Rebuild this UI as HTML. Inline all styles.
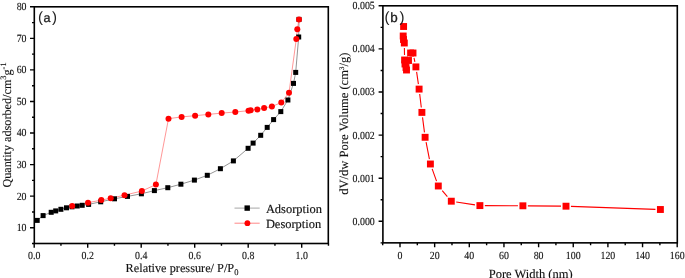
<!DOCTYPE html><html><head><meta charset="utf-8"><style>html,body{margin:0;padding:0;background:#fff;}svg{display:block;will-change:transform;} text{text-rendering:geometricPrecision;}</style></head><body>
<svg width="685" height="278" viewBox="0 0 685 278">
<rect width="685" height="278" fill="#fff"/>
<rect x="34.3" y="6.8" width="294.00" height="236.70" fill="none" stroke="#000" stroke-width="1.6"/>
<text transform="translate(26.5 231.12) scale(1 1.11)" text-anchor="end" font-family="Liberation Serif, serif" font-size="9.9" fill="#111" stroke="#111" stroke-width="0.12">10</text>
<text transform="translate(26.5 199.56) scale(1 1.11)" text-anchor="end" font-family="Liberation Serif, serif" font-size="9.9" fill="#111" stroke="#111" stroke-width="0.12">20</text>
<text transform="translate(26.5 168.00) scale(1 1.11)" text-anchor="end" font-family="Liberation Serif, serif" font-size="9.9" fill="#111" stroke="#111" stroke-width="0.12">30</text>
<text transform="translate(26.5 136.44) scale(1 1.11)" text-anchor="end" font-family="Liberation Serif, serif" font-size="9.9" fill="#111" stroke="#111" stroke-width="0.12">40</text>
<text transform="translate(26.5 104.88) scale(1 1.11)" text-anchor="end" font-family="Liberation Serif, serif" font-size="9.9" fill="#111" stroke="#111" stroke-width="0.12">50</text>
<text transform="translate(26.5 73.32) scale(1 1.11)" text-anchor="end" font-family="Liberation Serif, serif" font-size="9.9" fill="#111" stroke="#111" stroke-width="0.12">60</text>
<text transform="translate(26.5 41.76) scale(1 1.11)" text-anchor="end" font-family="Liberation Serif, serif" font-size="9.9" fill="#111" stroke="#111" stroke-width="0.12">70</text>
<text transform="translate(26.5 10.20) scale(1 1.11)" text-anchor="end" font-family="Liberation Serif, serif" font-size="9.9" fill="#111" stroke="#111" stroke-width="0.12">80</text>
<text transform="translate(34.20 258.9) scale(1 1.11)" text-anchor="middle" font-family="Liberation Serif, serif" font-size="9.9" fill="#111" stroke="#111" stroke-width="0.12">0.0</text>
<text transform="translate(87.70 258.9) scale(1 1.11)" text-anchor="middle" font-family="Liberation Serif, serif" font-size="9.9" fill="#111" stroke="#111" stroke-width="0.12">0.2</text>
<text transform="translate(141.20 258.9) scale(1 1.11)" text-anchor="middle" font-family="Liberation Serif, serif" font-size="9.9" fill="#111" stroke="#111" stroke-width="0.12">0.4</text>
<text transform="translate(194.70 258.9) scale(1 1.11)" text-anchor="middle" font-family="Liberation Serif, serif" font-size="9.9" fill="#111" stroke="#111" stroke-width="0.12">0.6</text>
<text transform="translate(248.20 258.9) scale(1 1.11)" text-anchor="middle" font-family="Liberation Serif, serif" font-size="9.9" fill="#111" stroke="#111" stroke-width="0.12">0.8</text>
<text transform="translate(301.70 258.9) scale(1 1.11)" text-anchor="middle" font-family="Liberation Serif, serif" font-size="9.9" fill="#111" stroke="#111" stroke-width="0.12">1.0</text>
<path d="M30.00 227.72H34.30 M30.00 196.16H34.30 M30.00 164.60H34.30 M30.00 133.04H34.30 M30.00 101.48H34.30 M30.00 69.92H34.30 M30.00 38.36H34.30 M30.00 6.80H34.30 M32.00 243.50H34.30 M328.45 243.50V245.80 M32.00 211.94H34.30 M32.00 180.38H34.30 M32.00 148.82H34.30 M32.00 117.26H34.30 M32.00 85.70H34.30 M32.00 54.14H34.30 M32.00 22.58H34.30 M34.20 243.50V247.80 M87.70 243.50V247.80 M141.20 243.50V247.80 M194.70 243.50V247.80 M248.20 243.50V247.80 M301.70 243.50V247.80 M60.95 243.50V245.80 M114.45 243.50V245.80 M167.95 243.50V245.80 M221.45 243.50V245.80 M274.95 243.50V245.80 M328.45 243.50V245.80" stroke="#000" stroke-width="1.4" fill="none"/>
<rect x="382.9" y="5.8" width="294.40" height="237.05" fill="none" stroke="#000" stroke-width="1.6"/>
<text transform="translate(374.8 224.70) scale(1 1.11)" text-anchor="end" font-family="Liberation Serif, serif" font-size="9.9" fill="#111" stroke="#111" stroke-width="0.12">0.000</text>
<text transform="translate(374.8 181.60) scale(1 1.11)" text-anchor="end" font-family="Liberation Serif, serif" font-size="9.9" fill="#111" stroke="#111" stroke-width="0.12">0.001</text>
<text transform="translate(374.8 138.50) scale(1 1.11)" text-anchor="end" font-family="Liberation Serif, serif" font-size="9.9" fill="#111" stroke="#111" stroke-width="0.12">0.002</text>
<text transform="translate(374.8 95.40) scale(1 1.11)" text-anchor="end" font-family="Liberation Serif, serif" font-size="9.9" fill="#111" stroke="#111" stroke-width="0.12">0.003</text>
<text transform="translate(374.8 52.30) scale(1 1.11)" text-anchor="end" font-family="Liberation Serif, serif" font-size="9.9" fill="#111" stroke="#111" stroke-width="0.12">0.004</text>
<text transform="translate(374.8 9.20) scale(1 1.11)" text-anchor="end" font-family="Liberation Serif, serif" font-size="9.9" fill="#111" stroke="#111" stroke-width="0.12">0.005</text>
<text transform="translate(400.00 258.9) scale(1 1.11)" text-anchor="middle" font-family="Liberation Serif, serif" font-size="9.9" fill="#111" stroke="#111" stroke-width="0.12">0</text>
<text transform="translate(434.65 258.9) scale(1 1.11)" text-anchor="middle" font-family="Liberation Serif, serif" font-size="9.9" fill="#111" stroke="#111" stroke-width="0.12">20</text>
<text transform="translate(469.30 258.9) scale(1 1.11)" text-anchor="middle" font-family="Liberation Serif, serif" font-size="9.9" fill="#111" stroke="#111" stroke-width="0.12">40</text>
<text transform="translate(503.95 258.9) scale(1 1.11)" text-anchor="middle" font-family="Liberation Serif, serif" font-size="9.9" fill="#111" stroke="#111" stroke-width="0.12">60</text>
<text transform="translate(538.60 258.9) scale(1 1.11)" text-anchor="middle" font-family="Liberation Serif, serif" font-size="9.9" fill="#111" stroke="#111" stroke-width="0.12">80</text>
<text transform="translate(573.25 258.9) scale(1 1.11)" text-anchor="middle" font-family="Liberation Serif, serif" font-size="9.9" fill="#111" stroke="#111" stroke-width="0.12">100</text>
<text transform="translate(607.90 258.9) scale(1 1.11)" text-anchor="middle" font-family="Liberation Serif, serif" font-size="9.9" fill="#111" stroke="#111" stroke-width="0.12">120</text>
<text transform="translate(642.55 258.9) scale(1 1.11)" text-anchor="middle" font-family="Liberation Serif, serif" font-size="9.9" fill="#111" stroke="#111" stroke-width="0.12">140</text>
<text transform="translate(677.20 258.9) scale(1 1.11)" text-anchor="middle" font-family="Liberation Serif, serif" font-size="9.9" fill="#111" stroke="#111" stroke-width="0.12">160</text>
<path d="M378.60 221.30H382.90 M378.60 178.20H382.90 M378.60 135.10H382.90 M378.60 92.00H382.90 M378.60 48.90H382.90 M378.60 5.80H382.90 M380.60 242.85H382.90 M380.60 199.75H382.90 M380.60 156.65H382.90 M380.60 113.55H382.90 M380.60 70.45H382.90 M380.60 27.35H382.90 M400.00 242.85V247.15 M434.65 242.85V247.15 M469.30 242.85V247.15 M503.95 242.85V247.15 M538.60 242.85V247.15 M573.25 242.85V247.15 M607.90 242.85V247.15 M642.55 242.85V247.15 M677.20 242.85V247.15 M382.68 242.85V245.15 M417.32 242.85V245.15 M451.98 242.85V245.15 M486.62 242.85V245.15 M521.27 242.85V245.15 M555.92 242.85V245.15 M590.58 242.85V245.15 M625.23 242.85V245.15 M659.88 242.85V245.15" stroke="#000" stroke-width="1.4" fill="none"/>
<polyline points="37.2,220.4 43.1,215.6 51.2,212.3 55.7,210.9 60.9,209.3 66.5,207.8 72.0,206.8 77.2,206.0 82.2,205.3 88.6,204.4 100.7,201.8 114.5,198.8 127.5,196.4 141.4,193.8 154.4,190.6 167.8,187.7 180.9,184.2 194.4,180.1 207.3,175.3 220.4,168.7 233.4,160.9 248.1,148.3 253.1,143.1 260.7,135.3 267.2,127.4 273.6,119.6 280.8,111.6 287.9,100.0 293.5,83.4 295.7,72.4 298.7,37.0 299.0,19.4" fill="none" stroke="#666" stroke-width="0.7"/>
<polyline points="299.0,19.4 297.3,29.3 296.3,39.1 289.0,92.7 281.3,102.6 271.9,106.5 264.1,108.0 257.3,109.4 250.7,110.3 248.5,110.7 235.3,112.0 221.7,113.1 208.3,114.4 195.1,115.7 181.6,116.9 168.5,118.7 155.9,184.6 141.9,191.0 124.5,195.2 110.7,198.2 101.3,200.1 88.0,202.7 72.2,206.0" fill="none" stroke="#ff6a6a" stroke-width="0.7"/>
<rect x="34.70" y="217.90" width="5.0" height="5.0" fill="#000"/>
<rect x="40.60" y="213.10" width="5.0" height="5.0" fill="#000"/>
<rect x="48.70" y="209.80" width="5.0" height="5.0" fill="#000"/>
<rect x="53.20" y="208.40" width="5.0" height="5.0" fill="#000"/>
<rect x="58.40" y="206.80" width="5.0" height="5.0" fill="#000"/>
<rect x="64.00" y="205.30" width="5.0" height="5.0" fill="#000"/>
<rect x="69.50" y="204.30" width="5.0" height="5.0" fill="#000"/>
<rect x="74.70" y="203.50" width="5.0" height="5.0" fill="#000"/>
<rect x="79.70" y="202.80" width="5.0" height="5.0" fill="#000"/>
<rect x="86.10" y="201.90" width="5.0" height="5.0" fill="#000"/>
<rect x="98.20" y="199.30" width="5.0" height="5.0" fill="#000"/>
<rect x="112.00" y="196.30" width="5.0" height="5.0" fill="#000"/>
<rect x="125.00" y="193.90" width="5.0" height="5.0" fill="#000"/>
<rect x="138.90" y="191.30" width="5.0" height="5.0" fill="#000"/>
<rect x="151.90" y="188.10" width="5.0" height="5.0" fill="#000"/>
<rect x="165.30" y="185.20" width="5.0" height="5.0" fill="#000"/>
<rect x="178.40" y="181.70" width="5.0" height="5.0" fill="#000"/>
<rect x="191.90" y="177.60" width="5.0" height="5.0" fill="#000"/>
<rect x="204.80" y="172.80" width="5.0" height="5.0" fill="#000"/>
<rect x="217.90" y="166.20" width="5.0" height="5.0" fill="#000"/>
<rect x="230.90" y="158.40" width="5.0" height="5.0" fill="#000"/>
<rect x="245.60" y="145.80" width="5.0" height="5.0" fill="#000"/>
<rect x="250.60" y="140.60" width="5.0" height="5.0" fill="#000"/>
<rect x="258.20" y="132.80" width="5.0" height="5.0" fill="#000"/>
<rect x="264.70" y="124.90" width="5.0" height="5.0" fill="#000"/>
<rect x="271.10" y="117.10" width="5.0" height="5.0" fill="#000"/>
<rect x="278.30" y="109.10" width="5.0" height="5.0" fill="#000"/>
<rect x="285.40" y="97.50" width="5.0" height="5.0" fill="#000"/>
<rect x="291.00" y="80.90" width="5.0" height="5.0" fill="#000"/>
<rect x="293.20" y="69.90" width="5.0" height="5.0" fill="#000"/>
<rect x="296.20" y="34.50" width="5.0" height="5.0" fill="#000"/>
<rect x="296.50" y="16.90" width="5.0" height="5.0" fill="#000"/>
<circle cx="299.00" cy="19.40" r="3.0" fill="#f00"/>
<circle cx="297.30" cy="29.30" r="3.0" fill="#f00"/>
<circle cx="296.30" cy="39.10" r="3.0" fill="#f00"/>
<circle cx="289.00" cy="92.70" r="3.0" fill="#f00"/>
<circle cx="281.30" cy="102.60" r="3.0" fill="#f00"/>
<circle cx="271.90" cy="106.50" r="3.0" fill="#f00"/>
<circle cx="264.10" cy="108.00" r="3.0" fill="#f00"/>
<circle cx="257.30" cy="109.40" r="3.0" fill="#f00"/>
<circle cx="250.70" cy="110.30" r="3.0" fill="#f00"/>
<circle cx="248.50" cy="110.70" r="3.0" fill="#f00"/>
<circle cx="235.30" cy="112.00" r="3.0" fill="#f00"/>
<circle cx="221.70" cy="113.10" r="3.0" fill="#f00"/>
<circle cx="208.30" cy="114.40" r="3.0" fill="#f00"/>
<circle cx="195.10" cy="115.70" r="3.0" fill="#f00"/>
<circle cx="181.60" cy="116.90" r="3.0" fill="#f00"/>
<circle cx="168.50" cy="118.70" r="3.0" fill="#f00"/>
<circle cx="155.90" cy="184.60" r="3.0" fill="#f00"/>
<circle cx="141.90" cy="191.00" r="3.0" fill="#f00"/>
<circle cx="124.50" cy="195.20" r="3.0" fill="#f00"/>
<circle cx="110.70" cy="198.20" r="3.0" fill="#f00"/>
<circle cx="101.30" cy="200.10" r="3.0" fill="#f00"/>
<circle cx="88.00" cy="202.70" r="3.0" fill="#f00"/>
<circle cx="72.20" cy="206.00" r="3.0" fill="#f00"/>
<path d="M404.39 47.95L404.51 55.05 M414.03 57.92L414.87 61.98 M416.61 71.83L418.39 84.17 M419.69 94.04L421.31 107.46 M422.53 117.34L424.47 132.36 M426.08 142.22L429.42 159.08 M432.15 168.86L436.55 181.14 M442.23 190.59L447.37 196.61 M456.23 201.96L474.97 204.84 M484.85 205.62L517.95 205.78 M527.85 205.85L561.05 206.15 M570.95 206.37L655.45 209.33" fill="none" stroke="#f00" stroke-width="1.1"/>
<rect x="400.15" y="23.05" width="6.9" height="6.9" fill="#f00"/>
<rect x="399.75" y="32.55" width="6.9" height="6.9" fill="#f00"/>
<rect x="400.05" y="36.05" width="6.9" height="6.9" fill="#f00"/>
<rect x="400.85" y="39.55" width="6.9" height="6.9" fill="#f00"/>
<rect x="401.15" y="56.55" width="6.9" height="6.9" fill="#f00"/>
<rect x="401.55" y="60.55" width="6.9" height="6.9" fill="#f00"/>
<rect x="402.55" y="64.05" width="6.9" height="6.9" fill="#f00"/>
<rect x="403.05" y="66.55" width="6.9" height="6.9" fill="#f00"/>
<rect x="405.05" y="57.05" width="6.9" height="6.9" fill="#f00"/>
<rect x="407.15" y="49.55" width="6.9" height="6.9" fill="#f00"/>
<rect x="409.55" y="49.55" width="6.9" height="6.9" fill="#f00"/>
<rect x="412.45" y="63.45" width="6.9" height="6.9" fill="#f00"/>
<rect x="415.65" y="85.65" width="6.9" height="6.9" fill="#f00"/>
<rect x="418.45" y="108.95" width="6.9" height="6.9" fill="#f00"/>
<rect x="421.65" y="133.85" width="6.9" height="6.9" fill="#f00"/>
<rect x="426.95" y="160.55" width="6.9" height="6.9" fill="#f00"/>
<rect x="434.85" y="182.55" width="6.9" height="6.9" fill="#f00"/>
<rect x="447.85" y="197.75" width="6.9" height="6.9" fill="#f00"/>
<rect x="476.45" y="202.15" width="6.9" height="6.9" fill="#f00"/>
<rect x="519.45" y="202.35" width="6.9" height="6.9" fill="#f00"/>
<rect x="562.55" y="202.75" width="6.9" height="6.9" fill="#f00"/>
<rect x="656.95" y="206.05" width="6.9" height="6.9" fill="#f00"/>
<path d="M234.5 208.1H259.7" stroke="#8a8a8a" stroke-width="0.75"/>
<rect x="244.5" y="205.4" width="5.4" height="5.4" fill="#000"/>
<path d="M234.5 223.2H259.7" stroke="#ff6060" stroke-width="0.75"/>
<circle cx="247.4" cy="223.2" r="2.9" fill="#f00"/>
<text x="265.9" y="212.6" font-family="Liberation Serif, serif" font-size="12.45" fill="#111" stroke="#111" stroke-width="0.15">Adsorption</text>
<text x="265.9" y="227.9" font-family="Liberation Serif, serif" font-size="12.45" fill="#111" stroke="#111" stroke-width="0.15">Desorption</text>
<text x="37.9" y="22.1" font-family="Liberation Sans, sans-serif" font-size="15" fill="#222">(<tspan font-size="12.6" dx="0.6" stroke="#222" stroke-width="0.3">a</tspan><tspan dx="1.6">)</tspan></text>
<text x="384.5" y="22.4" font-family="Liberation Sans, sans-serif" font-size="15" fill="#222">(<tspan font-size="13.4" dx="0.8" stroke="#222" stroke-width="0.3">b</tspan><tspan dx="1.7">)</tspan></text>
<text x="125.6" y="271.7" font-family="Liberation Serif, serif" font-size="12.3" fill="#111" stroke="#111" stroke-width="0.12">Relative pressure/ P/P<tspan font-size="8.5" dy="3">0</tspan></text>
<text x="488.7" y="277.5" font-family="Liberation Serif, serif" font-size="12.5" fill="#111" stroke="#111" stroke-width="0.12">Pore Width (nm)</text>
<text transform="translate(11.1 125) rotate(-90)" text-anchor="middle" font-family="Liberation Serif, serif" font-size="12.2" fill="#111" stroke="#111" stroke-width="0.12">Quantity adsorbed/cm<tspan font-size="8.4" dy="-5.2">3</tspan><tspan dy="5.2">g</tspan><tspan font-size="8.4" dy="-5.2">-1</tspan></text>
<text transform="translate(348.1 123.7) rotate(-90)" text-anchor="middle" font-family="Liberation Serif, serif" font-size="12.55" fill="#111" stroke="#111" stroke-width="0.12">dV/dw Pore Volume (cm<tspan font-size="7" dy="-4.6">3</tspan><tspan dy="4.6">/g)</tspan></text>
</svg></body></html>
